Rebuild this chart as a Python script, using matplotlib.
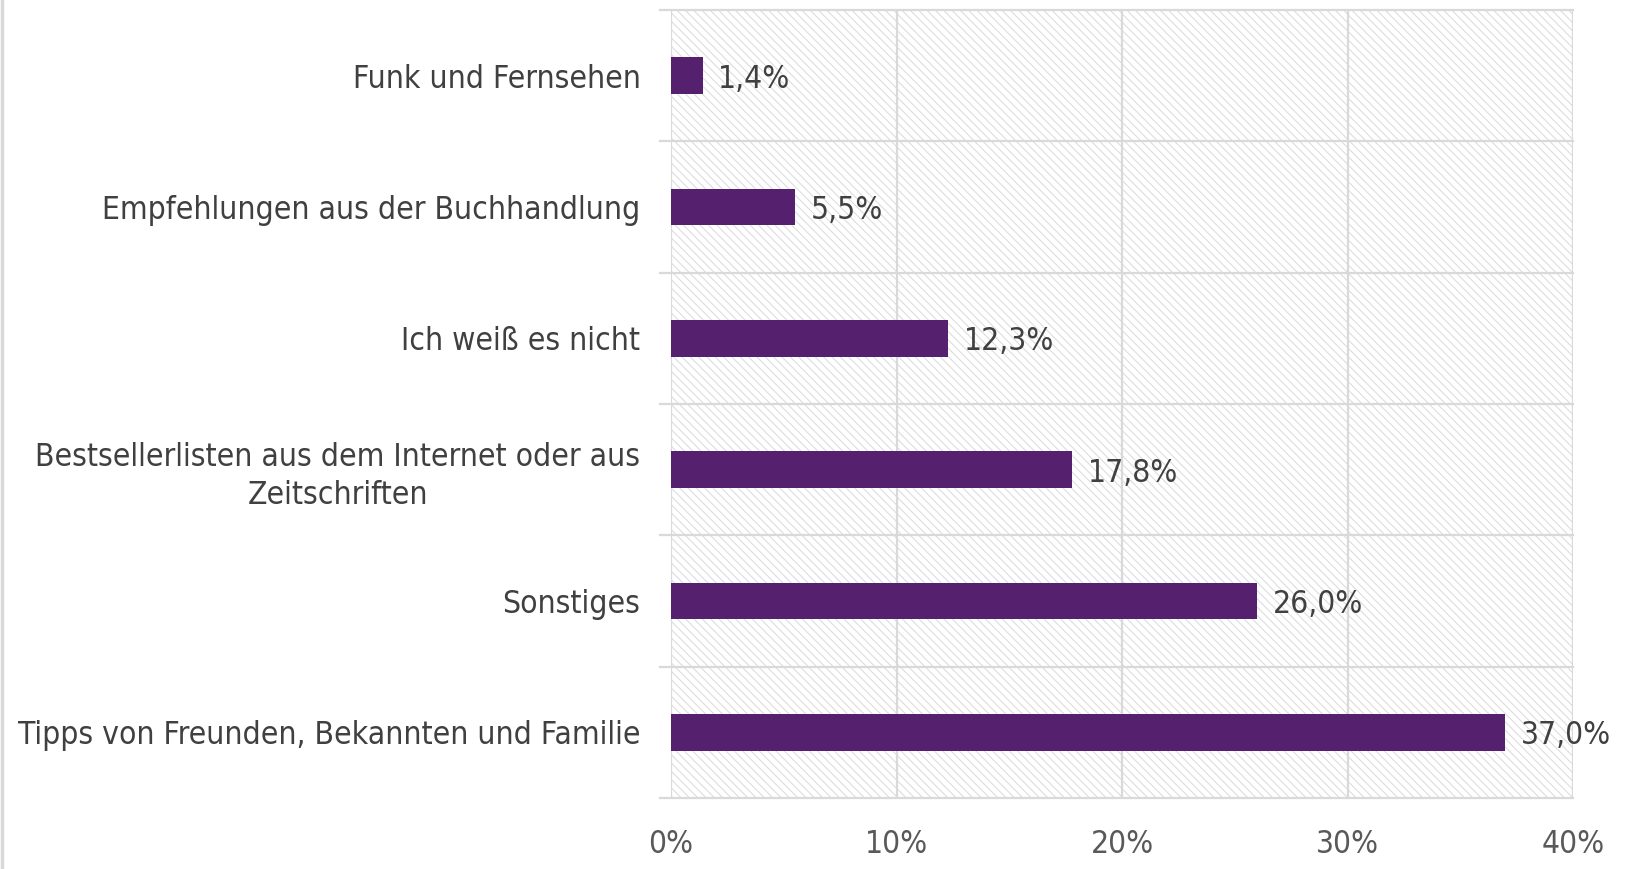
import matplotlib
matplotlib.use("Agg")
import matplotlib.pyplot as plt
from matplotlib.patches import Rectangle
from matplotlib.lines import Line2D

categories = [
    "Funk und Fernsehen",
    "Empfehlungen aus der Buchhandlung",
    "Ich weiß es nicht",
    "Bestsellerlisten aus dem Internet oder aus\nZeitschriften",
    "Sonstiges",
    "Tipps von Freunden, Bekannten und Familie",
]
values = [1.4, 5.5, 12.3, 17.8, 26.0, 37.0]
xticks = [0, 10, 20, 30, 40]
xtick_labels = ["0%", "10%", "20%", "30%", "40%"]

plt.rcParams['font.family'] = ['DejaVu Sans']
plt.rcParams['font.stretch'] = 'condensed'
plt.rcParams['hatch.linewidth'] = 0.7
plt.rcParams['hatch.color'] = '#d9d9d9'

W, H, DPI = 1626, 869, 100
fig = plt.figure(figsize=(W / DPI, H / DPI), dpi=DPI)
left, right, top, bottom = 671, 1573, 10, 798
ax = fig.add_axes([left / W, 1 - bottom / H, (right - left) / W, (bottom - top) / H])

grid_col = '#d9d9d9'
bar_col = '#55216f'
FS = 22.8

# hatched background
ax.add_patch(Rectangle((0, 0), 1, 1, transform=ax.transAxes, facecolor='white',
                       edgecolor='#d9d9d9', hatch='\\\\\\\\', linewidth=0, zorder=0))

ypos = list(range(len(categories)))
ax.barh(ypos, values, height=0.28, color=bar_col, zorder=3)

ax.set_xlim(0, 40)
ax.set_ylim(len(categories) - 0.5, -0.5)

for xv in xticks:
    ax.axvline(xv, color=grid_col, linewidth=1.6, zorder=1)

for b in [i - 0.5 for i in range(len(categories) + 1)]:
    ax.add_line(Line2D([-0.0125, 1], [b, b], transform=ax.get_yaxis_transform(),
                       color=grid_col, linewidth=1.6, clip_on=False, zorder=1))

for s in ax.spines.values():
    s.set_visible(False)

ax.set_yticks(ypos)
ax.set_yticklabels(categories, fontsize=FS, color='#404040', multialignment='center',
                   linespacing=1.28)
ax.tick_params(axis='y', length=0, pad=22)
ax.set_xticks(xticks)
ax.set_xticklabels(xtick_labels, fontsize=FS, color='#595959')
ax.tick_params(axis='x', length=0, pad=22)

for y, v in zip(ypos, values):
    ax.annotate(f"{v:.1f}".replace('.', ',') + "%", (v, y), xytext=(11, 0),
                textcoords='offset points', va='center_baseline', ha='left',
                fontsize=FS, color='#404040', zorder=4)

fig.add_artist(Line2D([2 / W, 2 / W], [0, 1], transform=fig.transFigure,
                      color='#d9d9d9', linewidth=2.5))

fig.savefig("out.png", dpi=DPI)
